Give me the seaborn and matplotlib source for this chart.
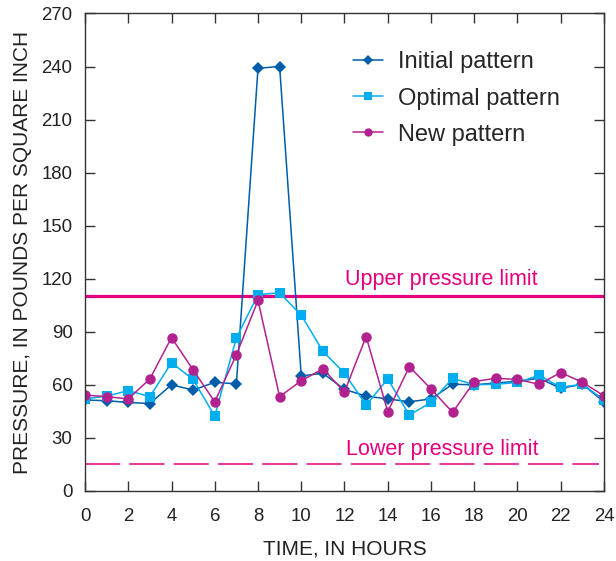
import pandas as pd
import matplotlib.pyplot as plt
import seaborn as sns

# valores
horas = list(range(25))
inicial = [51.4, 51, 50, 49.4, 60, 57, 61.4, 60.5, 239, 240, 65, 66.5, 57.4,
           53.6, 52, 50.4, 52, 60.3, 60, 61, 62, 63.7, 58, 60.3, 50.4]
otimo = [52, 53.6, 56.7, 53.3, 72.5, 63, 42.3, 86.5, 111, 112, 99.4, 79, 66.5,
         48.5, 63.3, 42.9, 50, 63.7, 60, 60.3, 61.3, 65.4, 58.6, 60.3, 51.4]
novo = [54.2, 53.3, 52, 63.3, 86.7, 68.4, 50.4, 77, 107.7, 53.3, 62.3, 69, 56,
        87.3, 44.8, 70.3, 57.6, 44.4, 61.8, 63.7, 63, 60.3, 66.9, 61.4, 53.8]
nomes = ['Initial pattern', 'Optimal pattern', 'New pattern']
limite_sup = 110
limite_inf = 15

cores = {'Initial pattern': '#005DAA', 'Optimal pattern': '#00AEEF', 'New pattern': '#B2228E'}
marcadores = {'Initial pattern': 'D', 'Optimal pattern': 's', 'New pattern': 'o'}
tamanhos = {'Initial pattern': 6, 'Optimal pattern': 7, 'New pattern': 7.5}
cor_limite = '#E6007E'

df = pd.DataFrame({'Hora': horas * 3,
                   'Pressao': inicial + otimo + novo,
                   'Padrao': [n for n in nomes for _ in horas]})

sns.set_theme(style="ticks")
plt.rcParams['font.family'] = ['Liberation Sans', 'DejaVu Sans']

fig, ax = plt.subplots(figsize=(6.16, 5.61), dpi=100)
fig.subplots_adjust(left=0.138, right=0.9805, top=0.976, bottom=0.125)

for nome in nomes:
    sns.lineplot(data=df[df['Padrao'] == nome], x='Hora', y='Pressao',
                 color=cores[nome], marker=marcadores[nome],
                 markersize=tamanhos[nome], markeredgewidth=0,
                 linewidth=1.1, label=nome, ax=ax)

# limites de pressão
ax.axhline(limite_sup, color=cor_limite, linewidth=2.3, zorder=1)
ax.axhline(limite_inf, xmax=0.99, color=cor_limite, linewidth=1.1,
           linestyle=(0, (23, 6)), zorder=1)
ax.text(16.5, 116.5, 'Upper pressure limit', color=cor_limite, fontsize=15.5,
        ha='center', va='baseline')
ax.text(16.5, 20.5, 'Lower pressure limit', color=cor_limite, fontsize=15.5,
        ha='center', va='baseline')

ax.set_xlim(0, 24)
ax.set_ylim(0, 270)
ax.set_xticks(range(0, 25, 2))
ax.set_yticks(range(0, 271, 30))
ax.tick_params(direction='in', length=7.5, width=1, top=True, right=True,
               labelsize=13.4, colors='#333333', labelcolor='#222222')
ax.tick_params(axis='x', pad=12)
ax.tick_params(axis='y', pad=9)
for sp in ax.spines.values():
    sp.set_color('#333333')
    sp.set_linewidth(1)

ax.set_xlabel('TIME, IN HOURS', fontsize=15, color='#222222', labelpad=11)
ax.set_ylabel('PRESSURE, IN POUNDS PER SQUARE INCH', fontsize=15,
              color='#222222', labelpad=7)

ax.legend(loc='upper left', bbox_to_anchor=(0.475, 0.965), frameon=False,
          fontsize=17, handlelength=1.3, handletextpad=0.6, labelspacing=0.6,
          markerscale=0.8)

plt.savefig('out.png', dpi=100)
